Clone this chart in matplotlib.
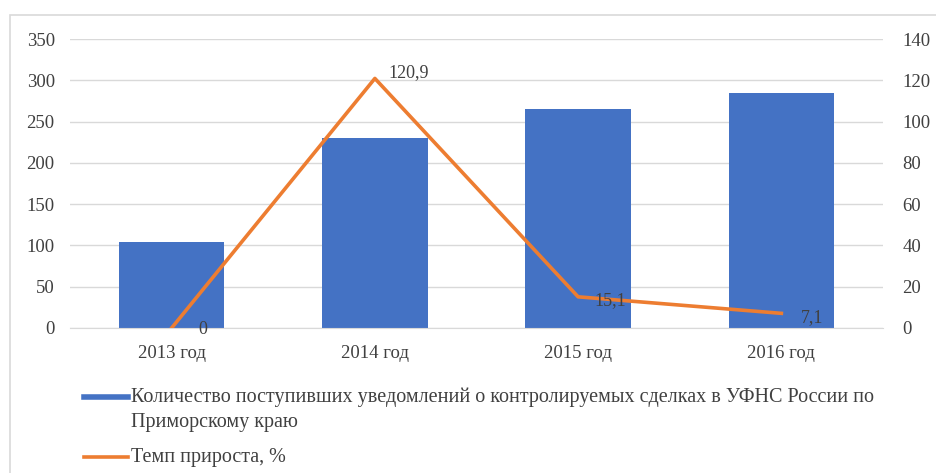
import matplotlib.pyplot as plt
from matplotlib.patches import Rectangle
from matplotlib.lines import Line2D

plt.rcParams['font.family'] = ['Liberation Serif', 'DejaVu Serif']

years = ['2013 год', '2014 год', '2015 год', '2016 год']
notices = [104, 230, 265, 284]
growth = [0, 120.9, 15.1, 7.1]
growth_labels = ['0', '120,9', '15,1', '7,1']

bar_label = 'Количество поступивших уведомлений о контролируемых сделках в УФНС России по'
bar_label2 = 'Приморскому краю'
line_label = 'Темп прироста, %'

blue = '#4472C4'
orange = '#ED7D31'
grid_c = '#D9D9D9'
txt_c = '#404040'

W, H = 937, 473
fig = plt.figure(figsize=(W / 100, H / 100), dpi=100)
fig.patches.append(Rectangle((10 / W, -0.05), 1.0, 1 - 15 / H + 0.05,
                             transform=fig.transFigure, fill=False,
                             edgecolor='#D9D9D9', lw=1.2))

ax = fig.add_axes([70 / W, 1 - 328 / H, 813 / W, 289 / H])
x = range(len(years))
ax.bar(x, notices, width=0.52, color=blue, zorder=2)
ax.set_ylim(0, 350)
ax.set_yticks(range(0, 351, 50))
ax.set_xlim(-0.5, 3.5)
ax.set_xticks(list(x))
ax.set_xticklabels(years)
ax.grid(axis='y', color=grid_c, lw=1, zorder=0)
for s in ax.spines.values():
    s.set_visible(False)
ax.spines['bottom'].set_visible(True)
ax.spines['bottom'].set_color(grid_c)
ax.tick_params(length=0, labelsize=13.5, colors=txt_c, pad=12)
ax.tick_params(axis='y', pad=11)

ax2 = ax.twinx()
ax2.plot(list(x), growth, color=orange, lw=2.6, zorder=3)
ax2.set_ylim(0, 140)
ax2.set_yticks(range(0, 141, 20))
for s in ax2.spines.values():
    s.set_visible(False)
ax2.tick_params(length=0, labelsize=13.5, colors=txt_c, pad=14)
offsets = [(19, -1), (10, 4), (12, -3), (14, -3)]
for xi, g, lab, off in zip(x, growth, growth_labels, offsets):
    ax2.annotate(lab, (xi, g), xytext=off, textcoords='offset points',
                 fontsize=13, color=txt_c, ha='left', va='center')

# legend drawn by hand so the marker sits on the first line of the wrapped label
fig.lines.append(Line2D([84 / W, 128 / W], [1 - 397 / H] * 2, color=blue, lw=4,
                        transform=fig.transFigure))
fig.lines.append(Line2D([84 / W, 128 / W], [1 - 457 / H] * 2, color=orange, lw=2.6,
                        transform=fig.transFigure))
for txt, yy in [(bar_label, 397), (bar_label2, 422), (line_label, 457)]:
    fig.text(131 / W, 1 - yy / H, txt, fontsize=14.5, color=txt_c,
             ha='left', va='center')

fig.savefig('out.png', dpi=100)
